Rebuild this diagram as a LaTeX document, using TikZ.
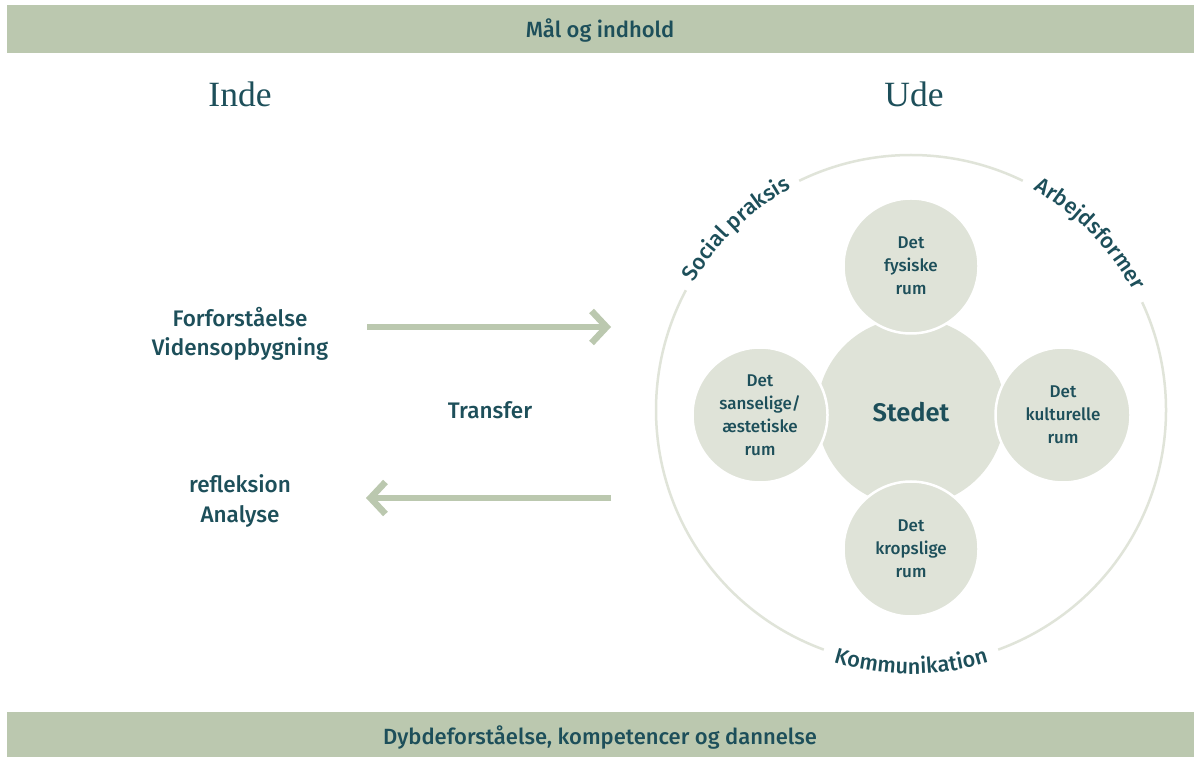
\documentclass[tikz,border=0pt]{standalone}
\usepackage{fontspec}
\setmainfont{Fira Sans Medium}[BoldFont={Fira Sans SemiBold}]
\newfontfamily\headserif{Liberation Serif}
\usetikzlibrary{arrows.meta,decorations.text}

\definecolor{barcol}{HTML}{BBC8AF}
\definecolor{ink}{HTML}{1D4F5A}
\definecolor{disc}{HTML}{DFE3D8}
\definecolor{ringcol}{HTML}{E0E4D9}
\definecolor{arrowcol}{HTML}{BBC8AF}

\newcommand{\curvefont}{\fontsize{21.8}{24}\selectfont\color{ink}}

\tikzset{
  bandtext/.style={text=ink, inner sep=0pt, font=\fontsize{22}{24}\selectfont},
  headtext/.style={text=ink, font=\headserif\fontsize{35.5}{38}\selectfont},
  plaintext/.style={text=ink, align=center, font=\fontsize{22.5}{29.5}\selectfont},
  hubdisc/.style={circle, fill=disc, draw=none, minimum size=188pt, inner sep=0pt,
    text=ink, font=\bfseries\fontsize{25.5}{28}\selectfont},
  roomdisc/.style={circle, fill=disc, draw=white, line width=2.5pt, minimum size=135pt,
    inner sep=0pt, text=ink, align=center, font=\fontsize{17}{23}\selectfont},
  ringline/.style={draw=ringcol, line width=2.5pt},
  flowarrow/.style={draw=arrowcol, line width=6.5pt,
    -{Straight Barb[length=15pt,width=32pt]}},
  curvelabel/.style={color=ink, decorate,
    decoration={text along path, text align=center, text={#1}}},
}

\begin{document}
\begin{tikzpicture}[x=1pt,y=1pt]
  \useasboundingbox (0,0) rectangle (1198,757);
  \fill[white] (0,0) rectangle (1198,757);

  % top and bottom bands
  \fill[barcol] (7,704) rectangle (1194,752);
  \fill[barcol] (7,0) rectangle (1194,45);
  \node[bandtext] (goal) at (600,726) {Mål og indhold};
  \node[bandtext] (result) at (600,19) {Dybdeforståelse, kompetencer og dannelse};

  % column headings
  \node[headtext] (inde) at (240,663) {Inde};
  \node[headtext] (ude) at (914,663) {Ude};

  % left column texts
  \node[plaintext] (forud) at (240,423) {Forforståelse\\Vidensopbygning};
  \node[plaintext] (refl) at (240,256) {refleksion\\Analyse};
  \node[plaintext] (transfer) at (490,347) {Transfer};

  % transfer arrows
  \coordinate (outA) at (367,430);
  \coordinate (outB) at (611,430);
  \coordinate (inA) at (611,259);
  \coordinate (inB) at (366,259);
  \draw[flowarrow] (outA) -- (outB);
  \draw[flowarrow] (inA) -- (inB);

  % outer ring with openings for the labels
  \coordinate (O) at (911,347);
  \draw[ringline] (O) ++(-70:255) arc[start angle=-70, end angle=25, radius=255];
  \draw[ringline] (O) ++(64:255) arc[start angle=64, end angle=116, radius=255];
  \draw[ringline] (O) ++(152:255) arc[start angle=152, end angle=250, radius=255];

  % labels following the ring
  \path[curvelabel={|\curvefont|Social praksis}]
    (O) ++(154:252) arc[start angle=154, end angle=114, radius=252];
  \path[curvelabel={|\curvefont|Arbejdsformer}]
    (O) ++(66:252) arc[start angle=66, end angle=23, radius=252];
  \path[curvelabel={|\curvefont|Kommunikation}]
    (O) ++(248:264) arc[start angle=248, end angle=292, radius=264];

  % the place and its four rooms
  \node[hubdisc] (stedet) at (911,345) {Stedet};
  \node[roomdisc] (fysisk) at (911,491) {Det\\fysiske\\rum};
  \node[roomdisc] (krop) at (911,208) {Det\\kropslige\\rum};
  \node[roomdisc] (sans) at (760,342) {Det\\sanselige/\\æstetiske\\rum};
  \node[roomdisc] (kultur) at (1063,342) {Det\\kulturelle\\rum};
\end{tikzpicture}
\end{document}
